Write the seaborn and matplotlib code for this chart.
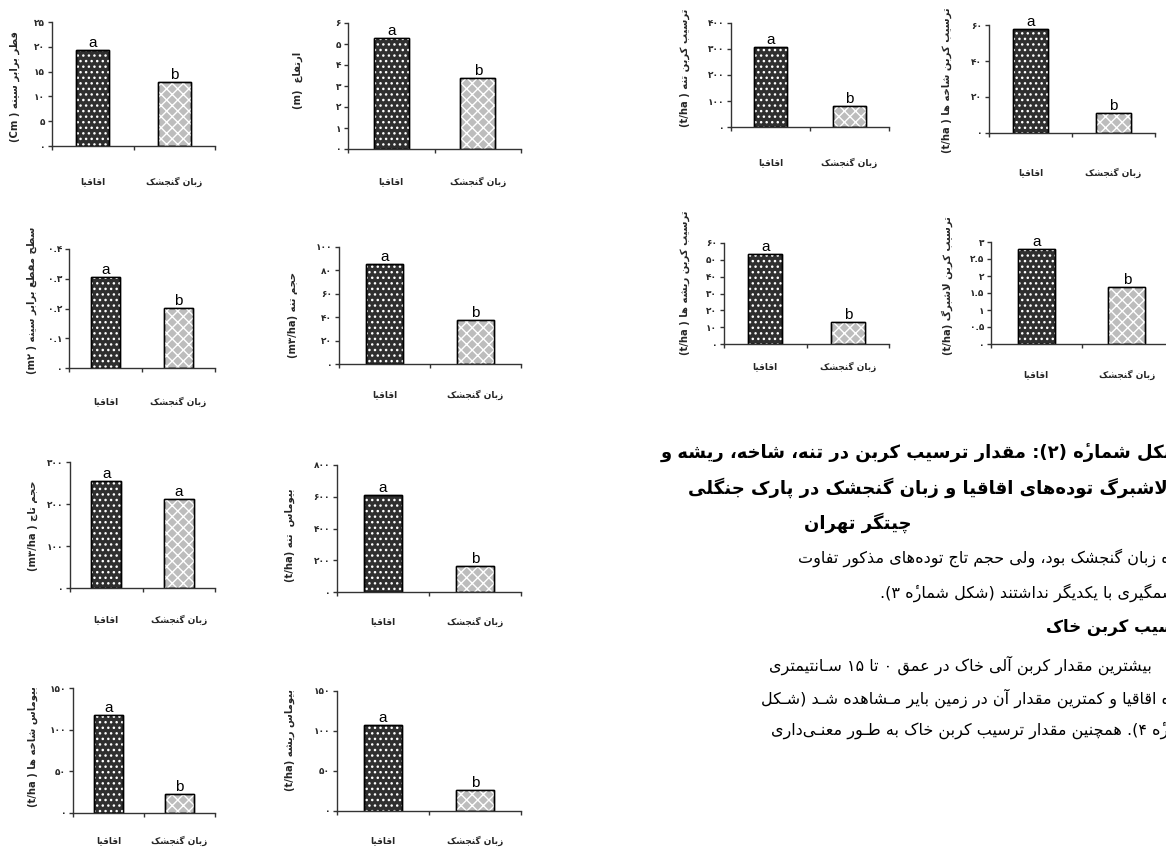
import re
import numpy as np
import matplotlib
matplotlib.use("Agg")
import matplotlib.pyplot as plt
from matplotlib.patches import Rectangle
import seaborn as sns

# --- داده‌ها (از روی شکل خوانده شده) ---
species = ["اقاقیا", "زبان گنجشک"]

dbh = [19.4, 13.0]             # قطر برابر سینه
height = [5.29, 3.40]          # ارتفاع
basal_area = [0.305, 0.203]    # سطح مقطع برابر سینه
stem_volume = [85.8, 37.3]     # حجم تنه
crown_volume = [254.6, 211.5]  # حجم تاج
stem_biomass = [609, 161]
branch_biomass = [117.6, 23.2]
root_biomass = [107.9, 25.7]
stem_carbon = [306, 79]
branch_carbon = [57.6, 11.1]
root_carbon = [53.7, 12.9]
litter_carbon = [2.79, 1.67]

letters_ab = ["a", "b"]
letters_aa = ["a", "a"]

# --- شکل‌دهی حروف فارسی (بدون arabic_reshaper) ---
DUAL = {'ئ': 0xFE89, 'ب': 0xFE8F, 'ت': 0xFE95, 'ث': 0xFE99, 'ج': 0xFE9D, 'ح': 0xFEA1,
        'خ': 0xFEA5, 'س': 0xFEB1, 'ش': 0xFEB5, 'ص': 0xFEB9, 'ض': 0xFEBD, 'ط': 0xFEC1,
        'ظ': 0xFEC5, 'ع': 0xFEC9, 'غ': 0xFECD, 'ف': 0xFED1, 'ق': 0xFED5, 'ل': 0xFEDD,
        'م': 0xFEE1, 'ن': 0xFEE5, 'ه': 0xFEE9, 'پ': 0xFB56, 'چ': 0xFB7A, 'ک': 0xFB8E,
        'گ': 0xFB92, 'ی': 0xFBFC}
RIGHT = {'آ': 0xFE81, 'أ': 0xFE83, 'ؤ': 0xFE85, 'إ': 0xFE87, 'ا': 0xFE8D, 'ة': 0xFE93,
         'د': 0xFEA9, 'ذ': 0xFEAB, 'ر': 0xFEAD, 'ز': 0xFEAF, 'و': 0xFEED, 'ژ': 0xFB8A}
LAMALEF = {'ا': 0xFEFB, 'آ': 0xFEF5, 'أ': 0xFEF7, 'إ': 0xFEF9}
MIRROR = {'(': ')', ')': '('}
FA_DIGITS = str.maketrans("0123456789", "۰۱۲۳۴۵۶۷۸۹")
HAMZA = '\u0654'


def shape(s):
    s = s.replace('ي', 'ی').replace('ك', 'ک').replace('ۀ', 'ه' + HAMZA)
    out, i, n = [], 0, len(s)
    joins_next = lambda c: c in DUAL or c == 'ـ'
    joiner = lambda c: c != '' and (c in DUAL or c in RIGHT or c == 'ـ')
    while i < n:
        c = s[i]
        prev = s[i - 1] if i > 0 else ''
        if c == 'ل' and i + 1 < n and s[i + 1] in LAMALEF:
            out.append(chr(LAMALEF[s[i + 1]] + (1 if joins_next(prev) else 0)))
            i += 2
            continue
        nxt = s[i + 1] if i + 1 < n else ''
        a, b = joins_next(prev), joiner(nxt)
        if c in DUAL:
            out.append(chr(DUAL[c] + (3 if a and b else 1 if a else 2 if b else 0)))
        elif c in RIGHT:
            out.append(chr(RIGHT[c] + (1 if a else 0)))
        elif c != '\u200c':
            out.append(c)
        i += 1
    return ''.join(out)


def rtl(s):
    s = shape(s)
    parts = re.findall(r"[A-Za-z0-9۰-۹]+(?:[/.][A-Za-z0-9۰-۹]+)*|.", s)
    vis = []
    for p in reversed(parts):
        if re.match(r"[A-Za-z0-9۰-۹]", p):
            vis.append(p)
        else:
            vis.append(MIRROR.get(p, p))
    # علامت همزه باید بعد از حرف پایه بیاید
    return re.sub(HAMZA + "(.)", r"\1" + HAMZA, ''.join(vis))


def fa(v):
    return ("%g" % v).translate(FA_DIGITS)


sns.set_theme(style="white")
plt.rcParams["font.family"] = ["DejaVu Sans"]
plt.rcParams["hatch.linewidth"] = 1.0

W, H = 1166, 851
fig = plt.figure(figsize=(W / 100, H / 100), dpi=100)

# (values, letters, ymax, step, ylabel, [left, right, top, bottom], [ylab_x, ylab_y], label gap) — px
charts = [
    (dbh, letters_ab, 25, 5, "قطر برابر سینه ( Cm)", [52, 215, 22, 146], [15, 87], 36),
    (height, letters_ab, 6, 1, "ارتفاع  (m)", [348, 521, 23, 149], [298, 80], 33),
    (stem_carbon, letters_ab, 400, 100, "ترسیب کربن تنه ( t/ha)", [731, 889, 23, 127], [685, 68], 36),
    (branch_carbon, letters_ab, 60, 20, "ترسیب کربن شاخه ها ( t/ha)", [989, 1155, 25, 133], [947, 80], 40),
    (root_carbon, letters_ab, 60, 10, "ترسیب کربن ریشه ها ( t/ha)", [724, 889, 243, 344], [685, 283], 23),
    (litter_carbon, letters_ab, 3, 0.5, "ترسیب کربن لاشبرگ (t/ha)", [991, 1172, 242, 344], [947, 286], 31),
    (basal_area, letters_ab, 0.4, 0.1, "سطح مقطع برابر سینه ( m۲)", [69, 215, 249, 368], [32, 300], 34),
    (stem_volume, letters_ab, 100, 20, "حجم تنه (m۳/ha)", [339, 521, 247, 364], [293, 315], 31),
    (crown_volume, letters_aa, 300, 100, "حجم تاج ( m۳/ha)", [70, 215, 462, 588], [33, 526], 32),
    (stem_biomass, letters_ab, 800, 200, "بیوماس  تنه (t/ha)", [337, 521, 465, 592], [290, 535], 30),
    (branch_biomass, letters_ab, 150, 50, "بیوماس شاخه ها ( t/ha)", [73, 215, 688, 813], [33, 747], 28),
    (root_biomass, letters_ab, 150, 50, "بیوماس ریشه (t/ha)", [337, 521, 691, 811], [290, 740], 30),
]

species_vis = [rtl(s) for s in species]
axis_col = "#333333"

for values, letters, ymax, step, ylabel, box, ylab, gap in charts:
    l, r, t, b = box
    ax = fig.add_axes([l / W, 1 - b / H, (r - l) / W, (b - t) / H])
    sns.barplot(x=species_vis, y=values, hue=species_vis, ax=ax, legend=False,
                palette=["#2f2f2f", "#bdbdbd"], saturation=1, width=0.41,
                edgecolor="black", linewidth=1)
    bars = list(ax.patches)
    for p, hatch in zip(bars, ["...", "xxx"]):
        ax.add_patch(Rectangle(p.get_xy(), p.get_width(), p.get_height(), facecolor="none",
                               edgecolor="white", hatch=hatch, lw=0, zorder=p.get_zorder() + 0.1))
        ax.add_patch(Rectangle(p.get_xy(), p.get_width(), p.get_height(), fill=False,
                               edgecolor="black", lw=1, zorder=p.get_zorder() + 0.2))
    for p, letter in zip(bars, letters):
        ax.text(p.get_x() + p.get_width() / 2, p.get_height(), letter, ha="center", va="bottom",
                fontsize=11, family="Liberation Sans", color="black")

    ticks = np.arange(0, ymax + step / 2, step)
    ax.set_ylim(0, ymax)
    ax.set_yticks(ticks)
    ax.set_yticklabels([fa(round(v, 2)) for v in ticks], fontsize=6.5, fontweight="bold")
    ax.set_xlim(-0.5, 1.5)
    ax.set_xticks([-0.5, 0.5, 1.5])
    ax.set_xticklabels([])
    ax.set_xticks([0, 1], minor=True)
    ax.set_xticklabels(species_vis, minor=True, fontsize=6.5, fontweight="bold")
    ax.tick_params(axis="x", which="minor", length=0, pad=(gap - 5) * 0.72)
    ax.tick_params(axis="both", which="major", direction="out", length=3, width=1,
                   color=axis_col, pad=2, left=True, bottom=True)
    ax.set_xlabel("")
    ax.set_ylabel("")
    for side in ["top", "right"]:
        ax.spines[side].set_visible(False)
    for side in ["left", "bottom"]:
        ax.spines[side].set_color(axis_col)
        ax.spines[side].set_linewidth(1)
    ax.patch.set_alpha(0)

    fig.text(ylab[0] / W, 1 - ylab[1] / H, rtl(ylabel), rotation=90, ha="center", va="center",
             fontsize=7.2, fontweight="bold")

# --- متن سمت راست صفحه (بریده‌شده در لبهٔ راست، مانند تصویر اصلی) ---
page_lines = [
    ("شکل شمارۀ (۲): مقدار ترسیب کربن در تنه، شاخه، ریشه و", 1182, 453, "right", "bold", 13),
    ("لاشبرگ توده‌های اقاقیا و زبان گنجشک در پارک جنگلی", 1168, 488, "right", "bold", 13),
    ("چیتگر تهران", 858, 523, "center", "bold", 13),
    ("تودۀ زبان گنجشک بود، ولی حجم تاج توده‌های مذکور تفاوت", 1190, 558, "right", "normal", 11.5),
    ("چشمگیری با یکدیگر نداشتند (شکل شمارۀ ۳).", 1186, 593, "right", "normal", 11.5),
    ("ترسیب کربن خاک", 1192, 627, "right", "bold", 12),
    ("بیشترین مقدار کربن آلی خاک در عمق ۰ تا ۱۵ سـانتیمتری", 1152, 665, "right", "normal", 11.5),
    ("تودۀ اقاقیا و کمترین مقدار آن در زمین بایر مـشاهده شـد (شـکل", 1190, 698, "right", "normal", 11.5),
    ("شمارۀ ۴). همچنین مقدار ترسیب کربن خاک به طـور معنـی‌داری", 1196, 730, "right", "normal", 11.5),
]
for text, x, y, ha, weight, size in page_lines:
    fig.text(x / W, 1 - y / H, rtl(text), ha=ha, va="center", fontsize=size,
             fontweight=weight, color="black")

fig.savefig("out.png", dpi=100)
